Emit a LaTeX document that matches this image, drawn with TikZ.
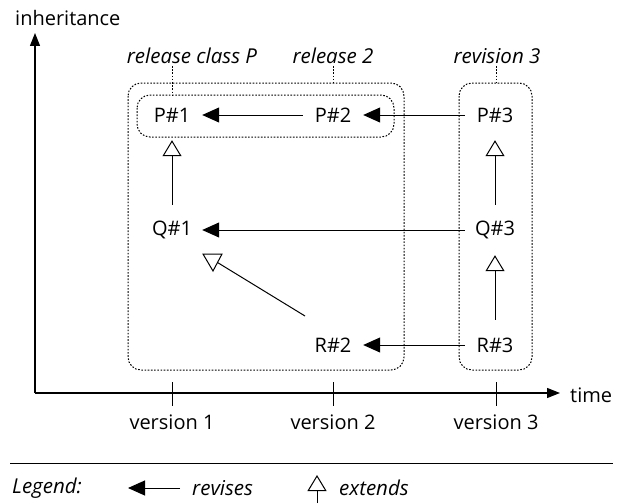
\documentclass[tikz,border=0pt]{standalone}
\usepackage{fontspec}
\setmainfont{Open Sans}
\usetikzlibrary{arrows.meta}
\begin{document}
\begin{tikzpicture}[x=1pt,y=-1pt,
  every node/.style={font=\fontsize{20}{24}\selectfont},
  cls/.style={minimum width=60pt,minimum height=50pt,inner sep=0pt},
  lbl/.style={font=\fontsize{20.5}{24}\selectfont\itshape},
  revises/.style={line width=1pt,-{Triangle[length=17pt,width=15pt]}},
  extends/.style={line width=1pt,-{Triangle[open,length=16pt,width=19pt,fill=white]}},
  axis/.style={line width=1.2pt,-{Triangle[length=13pt,width=10pt]}},
  grp/.style={line width=1pt,dash pattern=on 1.6pt off 1.6pt,rounded corners=13pt},
  lead/.style={line width=1pt,dash pattern=on 1.6pt off 1.6pt},
  tick/.style={line width=1pt}]
\useasboundingbox (0,0) rectangle (634,503);

% axes
\coordinate (O) at (35,393);
\coordinate (ytip) at (35,33);
\coordinate (xtip) at (560,393);
\draw[axis] (O) -- (ytip);
\draw[axis] (O) -- (xtip);
\node[anchor=west,inner sep=0pt] (inh) at (15,18) {inheritance};
\node[anchor=west,inner sep=0pt] (time) at (570,395) {time};

% ticks and version labels
\foreach \x/\n in {172/1,333/2,496/3}{
  \draw[tick] (\x,382) -- (\x,406);
  \node (v\n) at (\x,422) {version \n};
}

% group boxes
\draw[grp] (128,83) rectangle (404,370);
\draw[grp] (137,95) rectangle (394,137);
\draw[grp] (459,83) rectangle (532,370);

% group labels
\node[lbl] (lP) at (192,56) {release class P};
\node[lbl] (l2) at (333,56) {release 2};
\node[lbl] (l3) at (497,56) {revision 3};
\draw[lead] (172,66) -- (172,95);
\draw[lead] (333,66) -- (333,83);
\draw[lead] (496,66) -- (496,83);

% classes
\node[cls] (P1) at (172,115) {P\#1};
\node[cls] (P2) at (333,115) {P\#2};
\node[cls] (P3) at (495,115) {P\#3};
\node[cls] (Q1) at (172,230) {Q\#1};
\node[cls] (Q3) at (495,230) {Q\#3};
\node[cls] (R2) at (333,345) {R\#2};
\node[cls] (R3) at (495,345) {R\#3};

% revises
\draw[revises] (P2) -- (P1);
\draw[revises] (P3) -- (P2);
\draw[revises] (Q3) -- (Q1);
\draw[revises] (R3) -- (R2);

% extends
\draw[extends] (Q1) -- (P1);
\draw[extends] (Q3) -- (P3);
\draw[extends] (R3) -- (Q3);
\coordinate (tri) at (217.5,262.5);
\draw[line width=1pt] (305,316) -- (tri);
\draw[line width=1pt,fill=white] (203,254) -- (222,254) -- (213,271) -- cycle;

% legend
\draw[line width=1pt] (10,463) -- (613,463);
\node[lbl,anchor=west,inner sep=0pt] (leg) at (12,488) {Legend:};
\coordinate (ra) at (180,488);
\coordinate (rb) at (128,488);
\draw[revises] (ra) -- (rb);
\node[lbl,anchor=west,inner sep=0pt] (rev) at (192,488) {revises};
\coordinate (ea) at (317,503);
\coordinate (eb) at (317,475);
\draw[extends] (ea) -- (eb);
\node[lbl,anchor=west,inner sep=0pt] (ext) at (339,488) {extends};
\end{tikzpicture}
\end{document}
